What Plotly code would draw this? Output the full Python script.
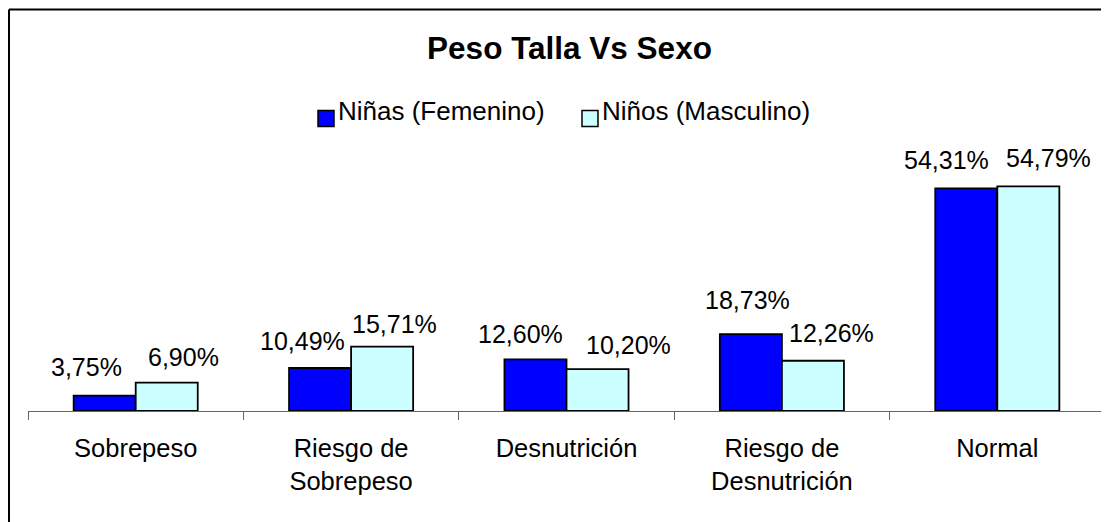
import plotly.graph_objects as go

categories = ["Sobrepeso", "Riesgo de<br>Sobrepeso", "Desnutrición", "Riesgo de<br>Desnutrición", "Normal"]
series_names = ["Niñas (Femenino)", "Niños (Masculino)"]
ninas = [3.75, 10.49, 12.60, 18.73, 54.31]
ninos = [6.90, 15.71, 10.20, 12.26, 54.79]
labels_ninas = ["3,75%", "10,49%", "12,60%", "18,73%", "54,31%"]
labels_ninos = ["6,90%", "15,71%", "10,20%", "12,26%", "54,79%"]
colors = ["#0000FF", "#CCFFFF"]

# ---- style / layout (pixel offsets for label placement, as in the reference) ----
dx_ninas = [-18.5, -18, -15, -3.5, -20]
dx_ninos = [17, 12, 31, 18.5, 20]
dy_ninas = [29, 27, 25, 34, 28]
dy_ninos = [26, 23, 24, 27.5, 28.5]

W, H = 1101, 514          # page body adds an 8 px margin
L, R, T, B = 20, 1097, 157, 403
FONT = "Liberation Sans, Arial, sans-serif"


def px_x(px):
    return (px - L) / (R - L)


def px_y(py):
    return (B - py) / (B - T)


idx = list(range(len(categories)))
bargap = 0.424
half = (1 - bargap) / 4

fig = go.Figure()
for name, vals, col in zip(series_names, [ninas, ninos], colors):
    fig.add_trace(go.Bar(
        x=idx, y=vals, name=name,
        marker=dict(color=col, line=dict(color="black", width=1.8)),
        showlegend=False,
    ))

annotations = []
for i in idx:
    annotations.append(dict(x=i - half, y=ninas[i], xref="x", yref="y", text=labels_ninas[i],
                            showarrow=False, yanchor="middle", xshift=dx_ninas[i], yshift=dy_ninas[i],
                            font=dict(size=25, color="black", family=FONT)))
    annotations.append(dict(x=i + half, y=ninos[i], xref="x", yref="y", text=labels_ninos[i],
                            showarrow=False, yanchor="middle", xshift=dx_ninos[i], yshift=dy_ninos[i],
                            font=dict(size=25, color="black", family=FONT)))

# manual legend
shapes = []
legend_items = [(310, series_names[0], colors[0]), (574, series_names[1], colors[1])]
for x0, name, col in legend_items:
    shapes.append(dict(type="rect", xref="paper", yref="paper",
                       x0=px_x(x0), x1=px_x(x0 + 16), y0=px_y(118.5), y1=px_y(102.5),
                       fillcolor=col, line=dict(color="black", width=1.5)))
    annotations.append(dict(x=px_x(x0 + 18), y=px_y(103), xref="paper", yref="paper",
                            text=name, showarrow=False, xanchor="left", yanchor="middle",
                            font=dict(size=26, color="black", family=FONT)))

# outer frame (top and left edges visible)
shapes.append(dict(type="line", xref="paper", yref="paper",
                   x0=px_x(1), x1=px_x(1120), y0=px_y(1.5), y1=px_y(1.5),
                   line=dict(color="black", width=2)))
shapes.append(dict(type="line", xref="paper", yref="paper",
                   x0=px_x(1), x1=px_x(1), y0=px_y(1.5), y1=px_y(540),
                   line=dict(color="black", width=2)))

fig.update_layout(
    width=W, height=H,
    margin=dict(l=L, r=W - R, t=T, b=H - B, pad=0),
    paper_bgcolor="white", plot_bgcolor="white",
    barmode="group", bargap=bargap, bargroupgap=0,
    title=dict(text="<b>Peso Talla Vs Sexo</b>", x=561.5 / W, y=1 - 39.5 / H,
               xanchor="center", yanchor="middle",
               font=dict(size=31.5, color="black", family=FONT)),
    annotations=annotations,
    shapes=shapes,
    font=dict(family=FONT, size=26, color="black"),
)
fig.update_xaxes(
    range=[-0.5, len(categories) - 0.5],
    tickvals=idx, ticktext=categories,
    ticks="", showgrid=False, zeroline=False,
    showline=True, linecolor="#666666", linewidth=1,
    tickfont=dict(size=25.5, color="black", family=FONT),
    ticklabelstandoff=14,
    minor=dict(tickvals=[i - 0.5 for i in range(len(categories) + 1)],
               ticks="outside", ticklen=8, tickcolor="#666666", tickwidth=1),
)
fig.update_yaxes(range=[0, 60], visible=False, showgrid=False, zeroline=False)

fig.write_html("out.html")
